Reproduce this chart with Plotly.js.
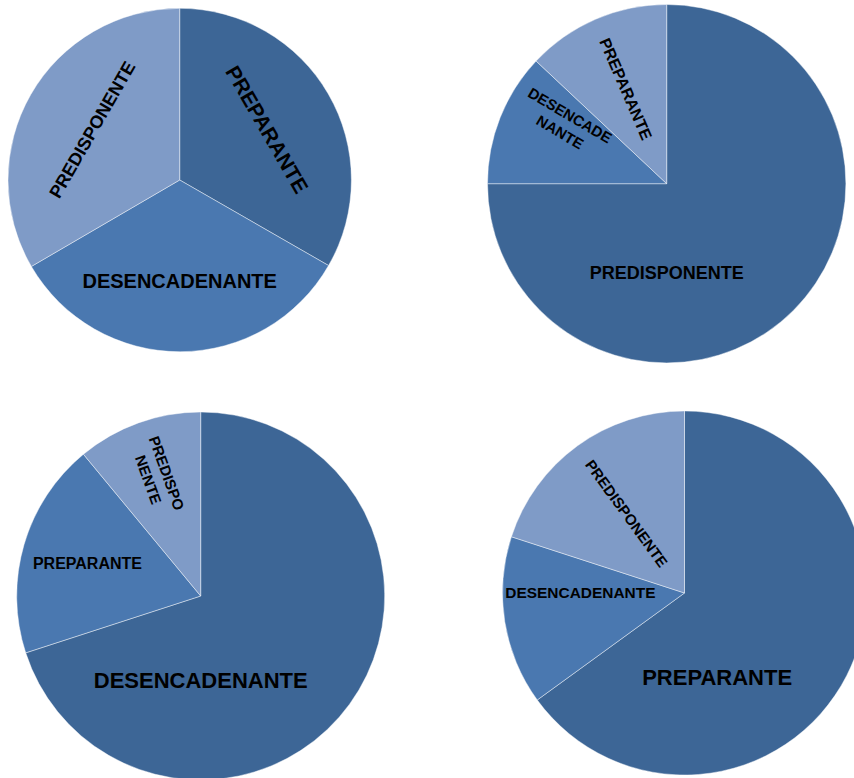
<!DOCTYPE html>
<html>
<head>
<meta charset="utf-8">
<script src="https://cdn.plot.ly/plotly-3.0.1.min.js"></script>
<style>
  html, body { margin: 0; padding: 0; background: #ffffff; overflow: hidden; }
  #chart { width: 900px; height: 800px; }
</style>
</head>
<body>
<div id="chart"></div>
<script>
// ---- data ----
const pie1Labels = ['PREPARANTE', 'DESENCADENANTE', 'PREDISPONENTE'];
const pie1Values = [33.3, 33.3, 33.4];
const pie1Text   = ['PREPARANTE', 'DESENCADENANTE', 'PREDISPONENTE'];

const pie2Labels = ['PREDISPONENTE', 'DESENCADENANTE', 'PREPARANTE'];
const pie2Values = [75, 12, 13];
const pie2Text   = ['PREDISPONENTE', 'DESENCADE<br>NANTE', 'PREPARANTE'];

const pie3Labels = ['DESENCADENANTE', 'PREPARANTE', 'PREDISPONENTE'];
const pie3Values = [70, 19, 11];
const pie3Text   = ['DESENCADENANTE', 'PREPARANTE', 'PREDISPO<br>NENTE'];

const pie4Labels = ['PREPARANTE', 'DESENCADENANTE', 'PREDISPONENTE'];
const pie4Values = [65, 15, 20];
const pie4Text   = ['PREPARANTE', 'DESENCADENANTE', 'PREDISPONENTE'];

// ---- styling / layout ----
const W = 900, H = 800;
const sliceColors = ['#3d6696', '#4a78b0', '#7f9bc7'];
const clear = 'rgba(0,0,0,0)';

function domainFor(cx, cy, r) {
  return { x: [(cx - r) / W, (cx + r) / W], y: [1 - (cy + r) / H, 1 - (cy - r) / H] };
}

// label groups: text orientation and angular offset of the label layer
const pies = [
  { labels: pie1Labels, values: pie1Values, text: pie1Text,
    domain: domainFor(179.7, 180, 171.7), sizes: [21, 20, 18],
    groups: [{ kind: 'tangential', rot: 0, idx: [0, 1, 2] }] },
  { labels: pie2Labels, values: pie2Values, text: pie2Text,
    domain: domainFor(666.7, 183.7, 179.2), sizes: [18, 15, 16],
    groups: [{ kind: 'horizontal', rot: 45, idx: [0] },
             { kind: 'radial', rot: 9, idx: [1] },
             { kind: 'radial', rot: 0, idx: [2] }] },
  { labels: pie3Labels, values: pie3Values, text: pie3Text,
    domain: domainFor(200.7, 596, 184), sizes: [22, 16, 15],
    groups: [{ kind: 'horizontal', rot: 0, idx: [0, 1] },
             { kind: 'radial', rot: 0, idx: [2] }] },
  { labels: pie4Labels, values: pie4Values, text: pie4Text,
    domain: domainFor(684.5, 593, 182), sizes: [22, 16, 15],
    groups: [{ kind: 'horizontal', rot: 42, idx: [0] },
             { kind: 'horizontal', rot: 0, idx: [1] },
             { kind: 'radial', rot: 0, idx: [2] }] }
];

const font = { family: 'Liberation Sans, Arial, sans-serif', color: '#000000', weight: 'bold' };

const traces = [];
pies.forEach(function (p) {
  // filled slices
  traces.push({
    type: 'pie', labels: p.labels, values: p.values,
    textinfo: 'none', sort: false, direction: 'clockwise', rotation: 0,
    domain: p.domain, hoverinfo: 'skip',
    marker: { colors: sliceColors, line: { color: 'rgba(255,255,255,0.55)', width: 0.8 } }
  });
  // label layers
  p.groups.forEach(function (g) {
    traces.push({
      type: 'pie', labels: p.labels, values: p.values,
      text: p.text.map(function (t, i) { return g.idx.indexOf(i) >= 0 ? t : ''; }),
      textinfo: 'text', textposition: 'inside', insidetextorientation: g.kind,
      sort: false, direction: 'clockwise', rotation: g.rot,
      domain: p.domain, hoverinfo: 'skip',
      marker: { colors: [clear, clear, clear], line: { color: clear, width: 0 } },
      insidetextfont: Object.assign({ size: p.sizes }, font)
    });
  });
});

const layout = {
  width: W,
  height: H,
  margin: { l: 0, r: 0, t: 0, b: 0, pad: 0 },
  showlegend: false,
  paper_bgcolor: '#ffffff',
  plot_bgcolor: '#ffffff'
};

Plotly.newPlot('chart', traces, layout, { displayModeBar: false, staticPlot: true });
</script>
</body>
</html>
